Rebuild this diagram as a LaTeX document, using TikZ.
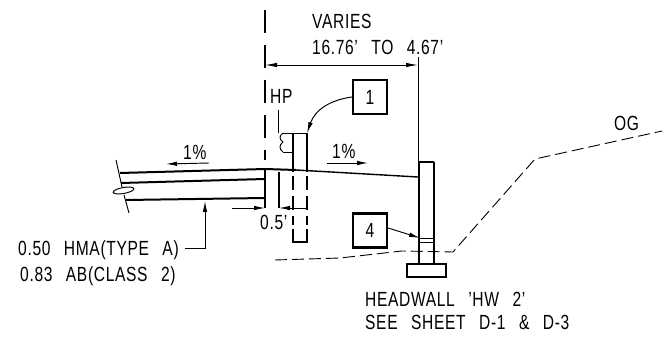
\documentclass[tikz,border=0pt]{standalone}
\usepackage{fontspec}
\setmainfont[FakeStretch=0.76,LetterSpace=3.2,WordSpace=2.7]{Liberation Sans}
\usetikzlibrary{arrows.meta}
\tikzset{
 x=1pt,y=-1pt,
 txt/.style={inner sep=0pt,font=\fontsize{20.5}{22}\selectfont,anchor=west},
 tagbox/.style={draw,line width=2.2pt,minimum size=34pt,inner sep=0pt,font=\fontsize{20.5}{22}\selectfont},
 thin line/.style={line width=0.95pt},
 heavy/.style={line width=2pt},
 long dash/.style={line width=1.1pt,dash pattern=on 23pt off 12pt},
 ground/.style={line width=0.9pt,dash pattern=on 12pt off 5pt},
 tip/.style={-{Latex[length=11pt,width=4.5pt]}},
}
\begin{document}
\begin{tikzpicture}
\useasboundingbox (0,0) rectangle (670,339);
% text
\node[txt] (varies) at (312,21) {VARIES};
\node[txt] (range) at (312,47) {16.76' TO 4.67'};
\node[txt] (hp) at (270,96) {HP};
\node[txt] (slopeL) at (183,152) {1\%};
\node[txt] (slopeR) at (332,151) {1\%};
\node[txt] (og) at (614,123) {OG};
\node[txt] (off) at (260,222) {0.5'};
\node[txt] (hma) at (18,250) {0.50 HMA(TYPE A)};
\node[txt] (ab) at (20,276) {0.83 AB(CLASS 2)};
\node[txt] (hw) at (365,299) {HEADWALL 'HW 2'};
\node[txt] (sheet) at (365,322) {SEE SHEET D-1 \& D-3};
\node[tagbox] (one) at (370,97) {1};
\node[tagbox] (four) at (370,230.5) {4};
% named points
\coordinate (clTop) at (265,10);
\coordinate (clEnd) at (265,160);
\coordinate (dimL) at (265,65);
\coordinate (dimR) at (418,65);
\coordinate (wallLine) at (418,162);
\coordinate (wallLineTop) at (418,57);
\coordinate (barTip) at (307,133);
\coordinate (wallTip) at (420,238);
\coordinate (hmaTip) at (205,201);
\coordinate (hmaElbow) at (205,248);
\coordinate (hmaEnd) at (185,248);
% centre line
\draw[long dash] (clTop) -- (clEnd);
% dimension
\draw[thin line,{Latex[length=12pt,width=4.5pt]}-{Latex[length=12pt,width=4.5pt]}] (dimL) -- (dimR);
\draw[thin line] (wallLineTop) -- (wallLine);
% slope arrows
\draw[thin line,tip] (209,163) -- (166,164);
\draw[thin line,tip] (327,163) -- (368,163);
% leaders
\draw[thin line,tip] (one.west) .. controls (330,100) and (315,110) .. (barTip);
\draw[thin line,tip] (four.east) ++(0,-2.5) -- (wallTip);
\draw[thin line,tip] (hmaEnd) -- (hmaElbow) -- (hmaTip);
% barrier
\draw[thin line] (278,110) -- (278,133);
\draw[thin line] (283,133) -- (307,133) (283,152) -- (293,152);
\draw[thin line] (283,133) .. controls (279,136) and (279,139) .. (283,142)
  .. controls (279,145) and (279,149) .. (283,152);
\draw[line width=1.2pt] (293,133) -- (293,172) (307,133) -- (307,172);
\draw[line width=1.2pt,dash pattern=on 14pt off 6pt] (293,176) -- (293,225) (307,176) -- (307,225);
\draw[line width=1.2pt] (293,229) -- (293,242) -- (307,242) -- (307,229);
% road
\draw[heavy] (120,173) -- (265,169) -- (296,170);
\draw[line width=1.4pt] (296,170) -- (340,172.5) -- (418,177);
\draw[heavy] (121,183) -- (265,179);
\draw[heavy] (126,200) -- (265,198);
% edge break
\draw[thin line] (116,160) -- (122,187) (124,195) -- (129,213);
\draw[thin line,fill=white] (123.5,190.5) ellipse[x radius=10.5pt,y radius=3pt,rotate=10];
% verticals, offset dimension
\draw[line width=1.2pt] (265,170) -- (265,208);
\draw[line width=1.2pt] (279,172) -- (279,208);
\draw[thin line,tip] (232,208) -- (265,208);
\draw[thin line,tip] (307,208) -- (279,208);
% headwall
\draw[heavy] (419,162) -- (434,162) (419,162) -- (419,264) (434,162) -- (434,264);
\draw[thin line] (419,238) -- (434,238) (419,242) -- (434,242);
\draw[heavy] (407,264) rectangle (446,277);
% ground
\draw[ground] (275,260) -- (340,258) -- (402,251) -- (453,252) -- (535,159) -- (662,131);
\end{tikzpicture}
\end{document}
